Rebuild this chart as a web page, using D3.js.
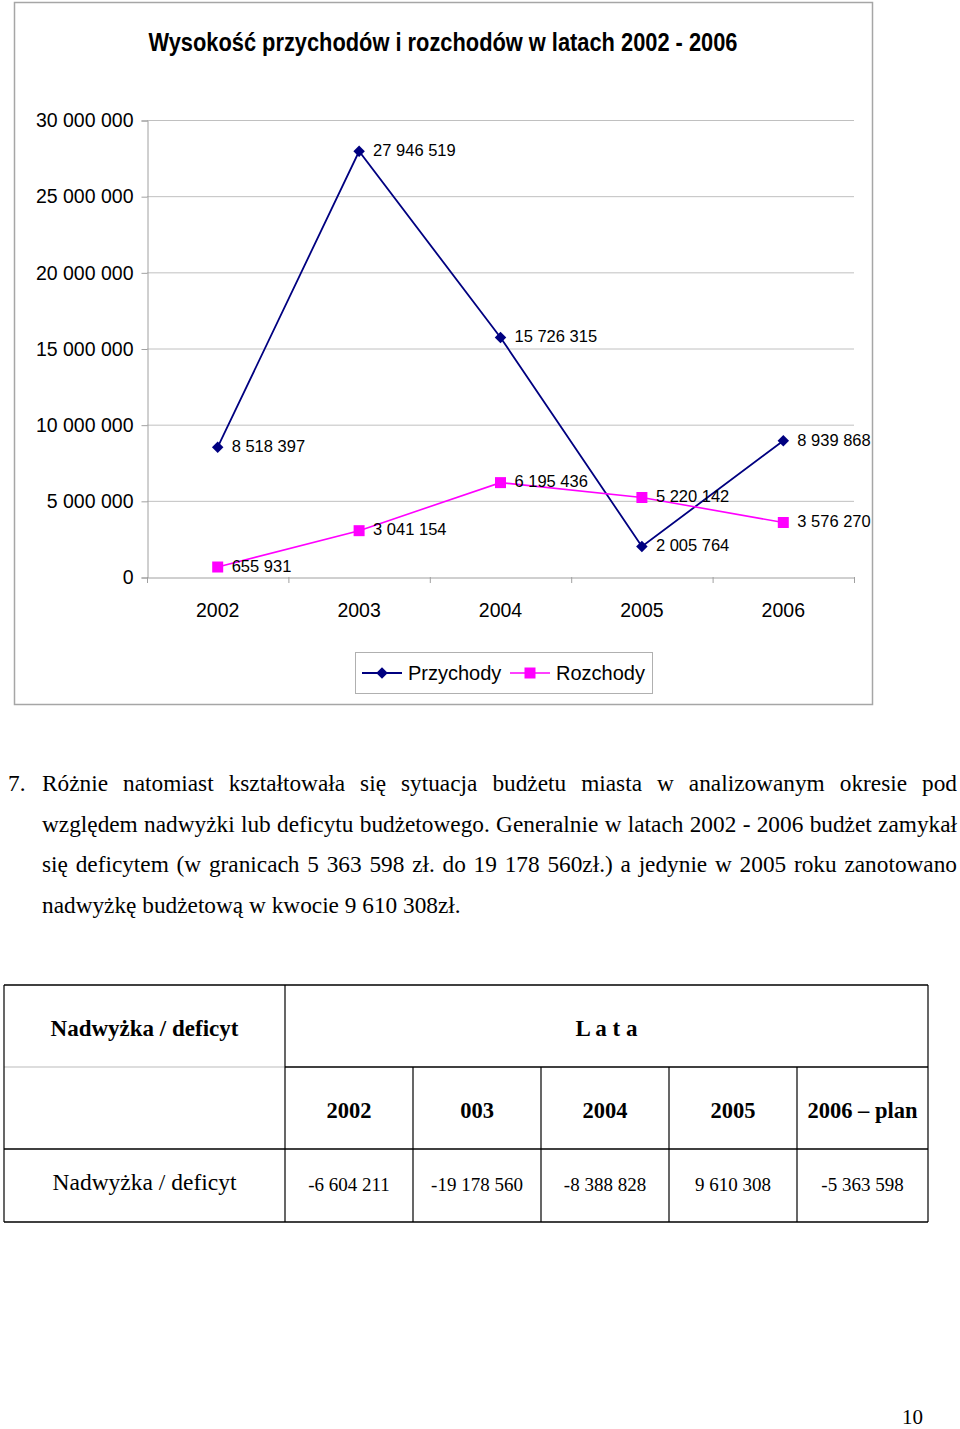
<!DOCTYPE html>
<html><head><meta charset="utf-8">
<script src="https://cdn.jsdelivr.net/npm/d3@7"></script>
<style>
html,body{margin:0;padding:0;background:#fff;}
svg{display:block;}
</style></head>
<body>
<svg id="page" width="960" height="1429"></svg>
<script>
// ---------- DATA ----------
const years = ["2002", "2003", "2004", "2005", "2006"];
const przychody = [8518397, 27946519, 15726315, 2005764, 8939868];
const rozchody = [655931, 3041154, 6195436, 5220142, 3576270];
const yTicks = [0, 5000000, 10000000, 15000000, 20000000, 25000000, 30000000];
const seriesNames = ["Przychody", "Rozchody"];
const chartTitle = "Wysokość przychodów i rozchodów w latach 2002 - 2006";

const paragraphNumber = "7.";
const paragraphLines = [
  "Różnie natomiast kształtowała się sytuacja budżetu miasta w analizowanym okresie pod",
  "względem nadwyżki lub deficytu budżetowego. Generalnie w latach 2002 - 2006 budżet zamykał",
  "się deficytem (w granicach 5 363 598 zł. do 19 178 560zł.) a jedynie w 2005 roku zanotowano",
  "nadwyżkę budżetową w kwocie 9 610 308zł."
];

const tableHeaderLeft = "Nadwyżka / deficyt";
const tableHeaderRight = "L a t a";
const tableYears = ["2002", "003", "2004", "2005", "2006 – plan"];
const tableRowLabel = "Nadwyżka / deficyt";
const tableValues = ["-6 604 211", "-19 178 560", "-8 388 828", "9 610 308", "-5 363 598"];
const pageNumber = "10";

// ---------- CHART ----------
const svg = d3.select("#page");
const sans = "'Liberation Sans', Arial, sans-serif";
const serif = "'Liberation Serif', 'Times New Roman', serif";

// frame
svg.append("rect").attr("x", 14.5).attr("y", 2.5).attr("width", 858).attr("height", 702)
  .attr("fill", "#fff").attr("stroke", "#a6a6a6").attr("stroke-width", 1.5);

svg.append("text").attr("x", 443).attr("y", 51).attr("text-anchor", "middle")
  .attr("font-family", sans).attr("font-weight", "bold").attr("font-size", 25)
  .attr("textLength", 589).attr("lengthAdjust", "spacingAndGlyphs")
  .text(chartTitle);

const x = d3.scaleBand().domain(years).range([147, 854]).padding(0);
const y = d3.scaleLinear().domain([0, 30000000]).range([577, 120]);
const fmt = v => d3.format(",")(v).replace(/,/g, " ");
const cx = d => x(d) + x.bandwidth() / 2;

// gridlines
svg.append("g").selectAll("line").data(yTicks.filter(t => t > 0)).join("line")
  .attr("x1", 147).attr("x2", 854).attr("y1", d => y(d) + 0.5).attr("y2", d => y(d) + 0.5)
  .attr("stroke", "#c0c0c0").attr("stroke-width", 1);

// y axis
const yAxis = svg.append("g").attr("transform", "translate(147.5,0.5)")
  .call(d3.axisLeft(y).tickValues(yTicks).tickSize(6).tickPadding(8).tickFormat(fmt));
yAxis.select(".domain").attr("stroke", "#a0a0a0");
yAxis.selectAll(".tick line").attr("stroke", "#a0a0a0");
yAxis.selectAll(".tick text").attr("font-family", sans).attr("font-size", 19.5).attr("fill", "#000");

// x axis
const xAxis = svg.append("g").attr("transform", "translate(0,577.5)")
  .call(d3.axisBottom(x).tickSize(0).tickPadding(26));
xAxis.select(".domain").attr("stroke", "#a0a0a0");
xAxis.selectAll(".tick text").attr("font-family", sans).attr("font-size", 19.5).attr("fill", "#000");
svg.append("g").selectAll("line").data(d3.range(years.length + 1)).join("line")
  .attr("x1", i => 147 + i * x.bandwidth() + 0.5).attr("x2", i => 147 + i * x.bandwidth() + 0.5)
  .attr("y1", 577).attr("y2", 583).attr("stroke", "#a0a0a0");

const line = d3.line().x((d, i) => cx(years[i])).y(d => y(d));

const series = [
  {name: seriesNames[0], values: przychody, color: "#000080", width: 1.8, sym: "diamond"},
  {name: seriesNames[1], values: rozchody, color: "#ff00ff", width: 1.6, sym: "square"}
];

function marker(g, type, color) {
  if (type === "diamond") {
    g.append("path").attr("d", d3.symbol(d3.symbolSquare, 66)()).attr("transform", "rotate(45)")
      .attr("fill", color);
  } else {
    g.append("path").attr("d", d3.symbol(d3.symbolSquare, 121)()).attr("fill", color);
  }
}

series.forEach(s => {
  svg.append("path").datum(s.values).attr("d", line).attr("fill", "none")
    .attr("stroke", s.color).attr("stroke-width", s.width);
});
series.forEach(s => {
  s.values.forEach((v, i) => {
    const g = svg.append("g").attr("transform", `translate(${cx(years[i])},${y(v)})`);
    marker(g, s.sym, s.color);
  });
});
series.forEach(s => {
  svg.append("g").selectAll("text").data(s.values).join("text")
    .attr("x", (d, i) => cx(years[i]) + 14).attr("y", d => y(d) - 1).attr("dy", "0.35em")
    .attr("font-family", sans).attr("font-size", 16.5).attr("fill", "#000")
    .text(fmt);
});

// legend
svg.append("rect").attr("x", 355.5).attr("y", 652.5).attr("width", 297).attr("height", 41)
  .attr("fill", "#fff").attr("stroke", "#b0b0b0");
const legX = [362, 510];
series.forEach((s, i) => {
  const g = svg.append("g").attr("transform", `translate(${legX[i]},673)`);
  g.append("line").attr("x1", 0).attr("x2", 40).attr("stroke", s.color).attr("stroke-width", s.width);
  const m = g.append("g").attr("transform", "translate(20,0)");
  marker(m, s.sym, s.color);
  g.append("text").attr("x", 46).attr("dy", "0.35em").attr("font-family", sans)
    .attr("font-size", 20).text(s.name);
});

// ---------- PARAGRAPH ----------
const pFont = 23.3;
const pLeft = 42, pRight = 957;
const pBase = [791, 831.5, 872, 912.5];
svg.append("text").attr("x", 8).attr("y", pBase[0]).attr("font-family", serif)
  .attr("font-size", pFont).text(paragraphNumber);
paragraphLines.forEach((ln, li) => {
  const words = ln.split(" ");
  const t = svg.append("text").attr("y", pBase[li]).attr("font-family", serif).attr("font-size", pFont);
  const spans = words.map(w => t.append("tspan").text(w));
  const widths = spans.map(sp => sp.node().getComputedTextLength());
  const sumW = d3.sum(widths);
  const justify = li < paragraphLines.length - 1;
  const natGap = pFont * 0.25;
  let gap = natGap, scale = 1;
  if (justify) {
    gap = (pRight - pLeft - sumW) / (words.length - 1);
    if (gap < natGap * 0.6) {
      gap = natGap * 0.6;
      scale = (pRight - pLeft) / (sumW + gap * (words.length - 1));
    }
  }
  let cur = 0;
  spans.forEach((sp, i) => { sp.attr("x", cur); cur += widths[i] + gap; });
  t.attr("transform", `translate(${pLeft},0) scale(${scale},1)`);
});

// ---------- TABLE ----------
const colX = [4, 285, 413, 541, 669, 797, 928];
const rowY = [985, 1067, 1149, 1222];
const tg = svg.append("g");
const black = "#000";
// horizontal lines
tg.append("line").attr("x1", colX[0]).attr("x2", colX[6]).attr("y1", rowY[0]).attr("y2", rowY[0]).attr("stroke", black).attr("stroke-width", 1.5);
tg.append("line").attr("x1", colX[0]).attr("x2", colX[1]).attr("y1", rowY[1]).attr("y2", rowY[1]).attr("stroke", "#bbb").attr("stroke-width", 1);
tg.append("line").attr("x1", colX[1]).attr("x2", colX[6]).attr("y1", rowY[1]).attr("y2", rowY[1]).attr("stroke", black).attr("stroke-width", 1.5);
tg.append("line").attr("x1", colX[0]).attr("x2", colX[6]).attr("y1", rowY[2]).attr("y2", rowY[2]).attr("stroke", black).attr("stroke-width", 1.5);
tg.append("line").attr("x1", colX[0]).attr("x2", colX[6]).attr("y1", rowY[3]).attr("y2", rowY[3]).attr("stroke", black).attr("stroke-width", 1.5);
// vertical lines
[0, 1, 6].forEach(c => tg.append("line").attr("x1", colX[c]).attr("x2", colX[c]).attr("y1", rowY[0]).attr("y2", rowY[3]).attr("stroke", black).attr("stroke-width", 1.2));
[2, 3, 4, 5].forEach(c => tg.append("line").attr("x1", colX[c]).attr("x2", colX[c]).attr("y1", rowY[1]).attr("y2", rowY[3]).attr("stroke", black).attr("stroke-width", 1.2));

tg.append("text").attr("x", (colX[0] + colX[1]) / 2).attr("y", 1036).attr("text-anchor", "middle")
  .attr("font-family", serif).attr("font-weight", "bold").attr("font-size", 23).text(tableHeaderLeft);
tg.append("text").attr("x", (colX[1] + colX[6]) / 2).attr("y", 1036).attr("text-anchor", "middle")
  .attr("font-family", serif).attr("font-weight", "bold").attr("font-size", 23).text(tableHeaderRight);
tg.selectAll("text.yr").data(tableYears).join("text").attr("class", "yr")
  .attr("x", (d, i) => (colX[i + 1] + colX[i + 2]) / 2).attr("y", 1118).attr("text-anchor", "middle")
  .attr("font-family", serif).attr("font-weight", "bold").attr("font-size", 22.5).text(d => d);
tg.append("text").attr("x", (colX[0] + colX[1]) / 2).attr("y", 1190).attr("text-anchor", "middle")
  .attr("font-family", serif).attr("font-size", 23.5).text(tableRowLabel);
tg.selectAll("text.val").data(tableValues).join("text").attr("class", "val")
  .attr("x", (d, i) => (colX[i + 1] + colX[i + 2]) / 2).attr("y", 1191).attr("text-anchor", "middle")
  .attr("font-family", serif).attr("font-size", 19).text(d => d);

svg.append("text").attr("x", 923).attr("y", 1424).attr("text-anchor", "end")
  .attr("font-family", serif).attr("font-size", 21).text(pageNumber);
</script>
</body></html>
